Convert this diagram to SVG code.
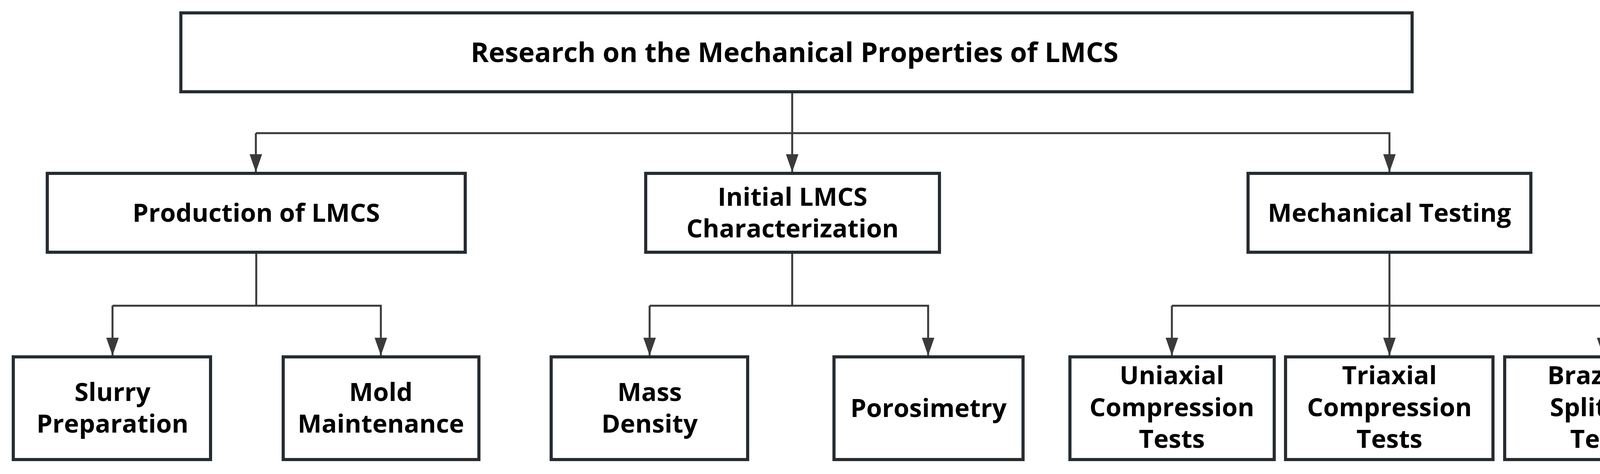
<svg xmlns="http://www.w3.org/2000/svg" width="4363" height="1214" viewBox="0 0 4363 1214">
<style>
.b{fill:#fff;stroke:#262c31;stroke-width:8}
.t{font-family:"Open Sans","Noto Sans",sans-serif;font-weight:bold;font-size:65px;fill:#000;text-anchor:middle}
.h{font-size:70px}
.c{fill:none;stroke:#3a3a3a;stroke-width:5}
</style>
<defs>
<marker id="a" markerUnits="userSpaceOnUse" markerWidth="46" markerHeight="32" refX="46" refY="16" orient="auto" viewBox="0 0 46 32">
<path d="M0,0 L46,16 L0,32 Z" fill="#3a3a3a"/>
</marker>
</defs>
<g id="connectors">
<path class="c" d="M2028,235 V441" marker-end="url(#a)"/>
<path class="c" d="M655,341 H3557 V441" marker-end="url(#a)"/>
<path class="c" d="M655,341 V441" marker-end="url(#a)"/>
<path class="c" d="M656,646 V783"/>
<path class="c" d="M288,783 H975 V911" marker-end="url(#a)"/>
<path class="c" d="M288,783 V911" marker-end="url(#a)"/>
<path class="c" d="M2028,646 V783"/>
<path class="c" d="M1663,783 H2376 V911" marker-end="url(#a)"/>
<path class="c" d="M1663,783 V911" marker-end="url(#a)"/>
<path class="c" d="M3557,646 V911" marker-end="url(#a)"/>
<path class="c" d="M3000,783 H4104 V911" marker-end="url(#a)"/>
<path class="c" d="M3000,783 V911" marker-end="url(#a)"/>
</g>
<g id="root"><rect class="b" x="463" y="33" width="3152" height="202"/><text class="t h" x="2034" y="159">Research on the Mechanical Properties of LMCS</text></g>
<g id="production"><rect class="b" x="121" y="444" width="1070" height="202"/><text class="t" x="656" y="568">Production of LMCS</text></g>
<g id="initial"><rect class="b" x="1653" y="444" width="752" height="202"/><text class="t" x="2029" y="527">Initial LMCS</text><text class="t" x="2029" y="608">Characterization</text></g>
<g id="mechanical"><rect class="b" x="3195" y="444" width="724" height="202"/><text class="t" x="3557" y="568">Mechanical Testing</text></g>
<g id="slurry"><rect class="b" x="34" y="914" width="505" height="263"/><text class="t" x="288" y="1027">Slurry</text><text class="t" x="288" y="1108">Preparation</text></g>
<g id="mold"><rect class="b" x="725" y="914" width="501" height="263"/><text class="t" x="975" y="1027">Mold</text><text class="t" x="975" y="1108">Maintenance</text></g>
<g id="mass"><rect class="b" x="1411" y="914" width="503" height="263"/><text class="t" x="1663" y="1027">Mass</text><text class="t" x="1663" y="1108">Density</text></g>
<g id="porosimetry"><rect class="b" x="2135" y="914" width="484" height="263"/><text class="t" x="2377" y="1068">Porosimetry</text></g>
<g id="uniaxial"><rect class="b" x="2739" y="914" width="523" height="263"/><text class="t" x="3000" y="984">Uniaxial</text><text class="t" x="3000" y="1066">Compression</text><text class="t" x="3000" y="1147">Tests</text></g>
<g id="triaxial"><rect class="b" x="3291" y="914" width="531" height="263"/><text class="t" x="3557" y="984">Triaxial</text><text class="t" x="3557" y="1066">Compression</text><text class="t" x="3557" y="1147">Tests</text></g>
<g id="brazilian"><rect class="b" x="3852" y="914" width="504" height="263"/><text class="t" x="4104" y="984">Brazilian</text><text class="t" x="4104" y="1066">Splitting</text><text class="t" x="4104" y="1147">Tests</text></g>
</svg>
